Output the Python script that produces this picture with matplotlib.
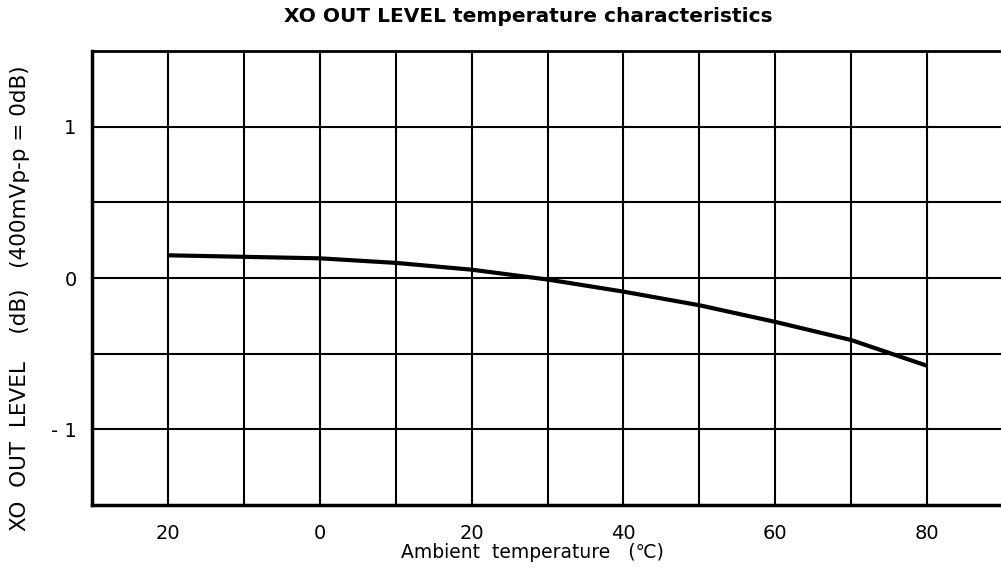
import matplotlib
matplotlib.use("Agg")
import matplotlib.pyplot as plt

# XO output level vs ambient temperature
temps = [-20, -10, 0, 10, 20, 30, 40, 50, 60, 70, 80]
levels = [0.15, 0.14, 0.13, 0.10, 0.055, -0.01, -0.09, -0.18, -0.29, -0.41, -0.58]

x_ticks = [-20, 0, 20, 40, 60, 80]
x_ticklabels = ["20", "0", "20", "40", "60", "80"]
y_ticks = [-1, 0, 1]
y_ticklabels = ["- 1", "0", "1"]

plt.rcParams["font.family"] = ["DejaVu Sans"]

W, H = 1001, 575
fig = plt.figure(figsize=(W / 100, H / 100), dpi=100)
ax = fig.add_axes([92 / W, 70 / H, (1003 - 92) / W, 454 / H])

ax.set_xlim(-30, 90)
ax.set_ylim(-1.5, 1.5)

# chart-paper grid: every 10 degC and every 0.5 dB
for gx in range(-20, 90, 10):
    ax.axvline(gx, color="black", lw=1.5, zorder=1)
for gy in [-1.0, -0.5, 0.0, 0.5, 1.0]:
    ax.axhline(gy, color="black", lw=1.5, zorder=1)

ax.plot(temps, levels, color="black", lw=3, zorder=3,
        solid_joinstyle="round", solid_capstyle="butt")

ax.set_xticks(x_ticks)
ax.set_xticklabels(x_ticklabels, fontsize=14)
ax.set_yticks(y_ticks)
ax.set_yticklabels(y_ticklabels, fontsize=14)
ax.tick_params(axis="x", length=0, pad=14)
ax.tick_params(axis="y", length=0, pad=11)

for side in ["left", "bottom"]:
    ax.spines[side].set_linewidth(2.5)
ax.spines["top"].set_linewidth(2)
ax.spines["right"].set_visible(False)

fig.text(528 / W, 1 - 17 / H, "XO OUT LEVEL temperature characteristics",
         ha="center", va="center", fontsize=14.5, fontweight="bold")
fig.text(532 / W, 1 - 552 / H, "Ambient  temperature   (\u2103)",
         ha="center", va="center", fontsize=13.5)
fig.text(20 / W, 1 - 298 / H,
         "XO  OUT  LEVEL    (dB)   (400mVp-p = 0dB)",
         ha="center", va="center", rotation=90, fontsize=15.5)

fig.savefig("out.png", dpi=100)
